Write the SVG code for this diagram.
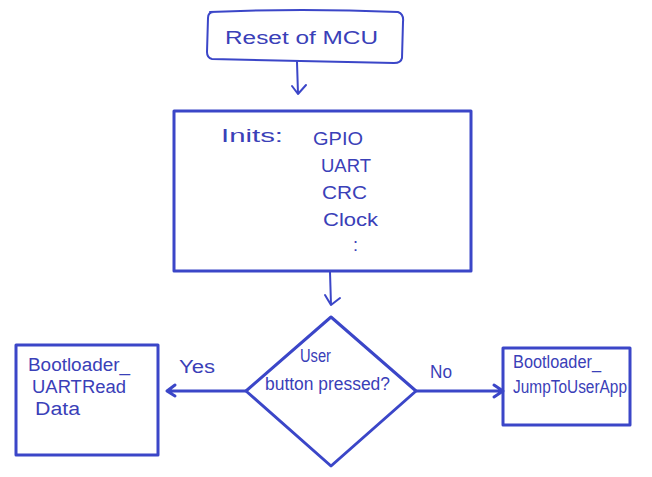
<svg xmlns="http://www.w3.org/2000/svg" width="652" height="477" viewBox="0 0 652 477">
<defs>
<style>
.shape{fill:none;stroke:#3b46c8;stroke-width:3;stroke-linejoin:round;stroke-linecap:round}
.thin{fill:none;stroke:#3b46c8;stroke-width:2;stroke-linecap:round;stroke-linejoin:round}
.t{font-family:"Liberation Sans","DejaVu Sans",sans-serif;fill:#3a40b8;font-size:18px}
</style>
</defs>
<rect width="652" height="477" fill="#ffffff"/>
<g id="reset">
<path class="thin" d="M210,12 Q300,8 398,12 Q404,14 403,22 L402,58 Q401,63 394,63 Q300,61 212,59 Q207,58 207,52 L208,18 Q208,12 214,12"/>
<text class="t" x="225" y="44" font-size="20" textLength="153" lengthAdjust="spacingAndGlyphs">Reset of MCU</text>
</g>
<g id="inits">
<rect class="shape" x="174" y="111" width="297" height="160"/>
<text class="t" x="221" y="142" textLength="62" lengthAdjust="spacingAndGlyphs">Inits:</text>
<text class="t" x="313" y="145" textLength="50" lengthAdjust="spacingAndGlyphs">GPIO</text>
<text class="t" x="321" y="172" textLength="50" lengthAdjust="spacingAndGlyphs">UART</text>
<text class="t" x="322" y="199" textLength="45" lengthAdjust="spacingAndGlyphs">CRC</text>
<text class="t" x="323" y="226" textLength="55" lengthAdjust="spacingAndGlyphs">Clock</text>
<text class="t" x="353" y="251" font-size="14">:</text>
</g>
<g id="decision">
<polygon class="shape" points="331,317 416,391 331,466 246,391"/>
<text class="t" x="300" y="362" font-size="17" textLength="31" lengthAdjust="spacingAndGlyphs">User</text>
<text class="t" x="265" y="390" font-size="17" textLength="125" lengthAdjust="spacingAndGlyphs">button pressed?</text>
</g>
<g id="uartread">
<rect class="shape" x="16" y="345" width="142" height="110"/>
<text class="t" x="28" y="371" textLength="102" lengthAdjust="spacingAndGlyphs">Bootloader_</text>
<text class="t" x="32" y="393" textLength="94" lengthAdjust="spacingAndGlyphs">UARTRead</text>
<text class="t" x="35" y="415" textLength="45" lengthAdjust="spacingAndGlyphs">Data</text>
</g>
<g id="jump">
<rect class="shape" x="503" y="348" width="127" height="77"/>
<text class="t" x="513" y="368" font-size="16" textLength="88" lengthAdjust="spacingAndGlyphs">Bootloader_</text>
<text class="t" x="513" y="393" font-size="16" textLength="114" lengthAdjust="spacingAndGlyphs">JumpToUserApp</text>
</g>
<g id="connectors">
<path class="thin" d="M297,62 L298,94 M292,86 L298,94 L306,85"/>
<path class="thin" d="M330,272 L331,305 M325,295 L331,305 L340,298"/>
<path class="shape" d="M246,391 L167,391 M175,385 L167,391 L175,396"/>
<path class="shape" d="M416,391 L503,391 M494,385 L503,391 L494,397"/>
<text class="t" x="179" y="373" textLength="36" lengthAdjust="spacingAndGlyphs">Yes</text>
<text class="t" x="430" y="378" font-size="17" textLength="22" lengthAdjust="spacingAndGlyphs">No</text>
</g>
</svg>
